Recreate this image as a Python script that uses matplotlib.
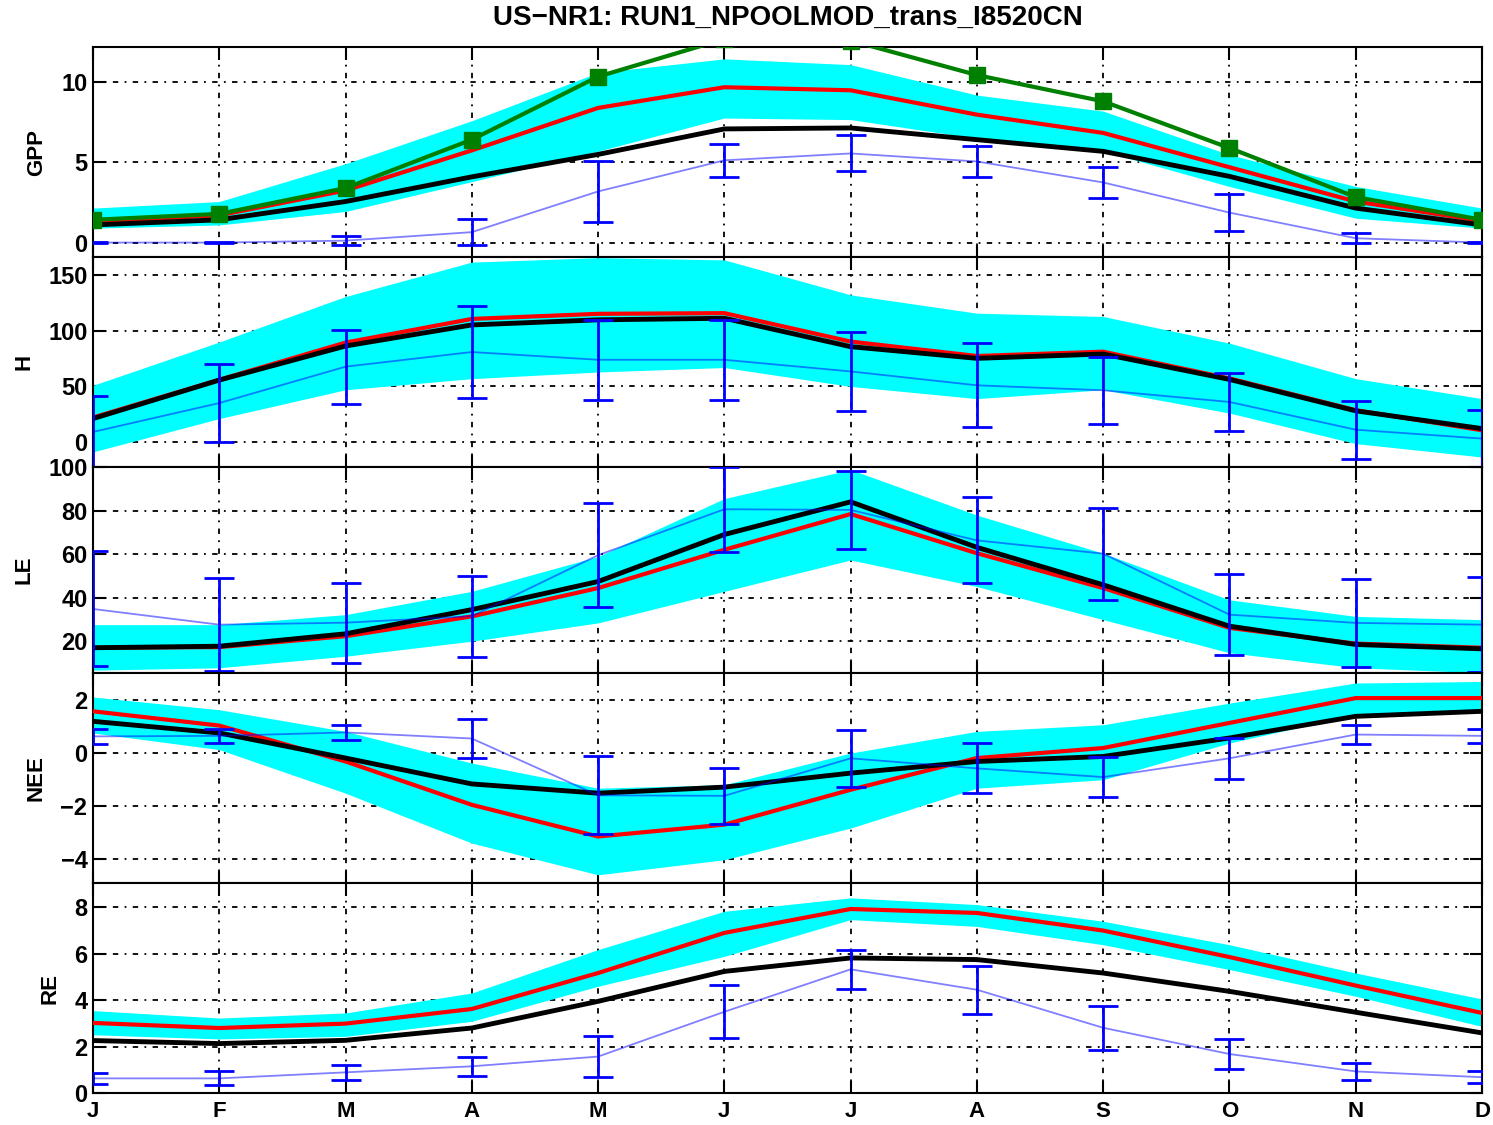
import matplotlib
matplotlib.use("Agg")
import matplotlib.pyplot as plt
import numpy as np

plt.rcParams['font.family'] = ['Liberation Sans', 'DejaVu Sans']

months = ['J', 'F', 'M', 'A', 'M', 'J', 'J', 'A', 'S', 'O', 'N', 'D']
title = 'US\u2212NR1: RUN1_NPOOLMOD_trans_I8520CN'

# GPP
gpp_hi = [2.15, 2.56, 4.92, 7.6, 10.6, 11.46, 11.1, 9.2, 8.2, 5.48, 3.5, 2.15]
gpp_lo = [0.9, 1.1, 1.94, 3.8, 5.7, 7.77, 7.67, 6.5, 5.7, 3.5, 1.52, 0.9]
gpp_red = [1.3, 1.7, 3.25, 5.75, 8.4, 9.69, 9.5, 7.98, 6.84, 4.7, 2.56, 1.35]
gpp_black = [1.1, 1.42, 2.56, 4.1, 5.5, 7.09, 7.15, 6.42, 5.69, 4.13, 2.15, 1.1]
gpp_green = [1.42, 1.79, 3.4, 6.42, 10.35, 12.7, 12.6, 10.45, 8.81, 5.9, 2.84, 1.42]
gpp_obs = [0.0, 0.0, 0.12, 0.65, 3.19, 5.13, 5.56, 5.06, 3.75, 1.87, 0.27, 0.0]
gpp_err = [0.05, 0.05, 0.26, 0.8, 1.88, 1.04, 1.12, 0.98, 0.94, 1.17, 0.32, 0.05]

# H
h_hi = [51, 90, 131, 162, 166, 164, 132.5, 116, 113, 89, 57, 39]
h_lo = [-9, 21, 47, 57, 63, 67, 50, 39, 47, 26, -1.5, -13.6]
h_red = [22, 56, 89.5, 110.8, 115.4, 116, 90.4, 77.4, 81.3, 57.2, 28.6, 10.5]
h_black = [21, 55.7, 86.4, 105.4, 110, 111.4, 85.8, 75.3, 79.2, 56.3, 28, 12]
h_obs = [9, 35, 67.8, 81, 74, 74, 63.5, 51, 46.5, 36, 11, 3]
h_err = [32.6, 35, 33.4, 41.4, 36, 36, 35.4, 37.8, 30, 26.2, 26, 26]

# LE
le_hi = [27.6, 27.6, 32.2, 42.9, 58.9, 85.5, 98.8, 77.9, 60.4, 39, 31.4, 29.9]
le_lo = [6.7, 7.8, 13.1, 20, 28.4, 42.9, 57.3, 45.1, 29.9, 14.7, 7.8, 5.5]
le_red = [17, 17.3, 22.3, 31.4, 44.4, 62, 78.4, 60.4, 44.4, 26.1, 18.9, 17]
le_black = [17, 17.7, 23.4, 34.5, 47.4, 69, 84, 63.1, 45.9, 26.9, 18.5, 16.5]
le_obs = [34.8, 27.6, 28.5, 31.5, 59.5, 80.6, 80.3, 66.3, 60.2, 32.2, 28.4, 27.6]
le_err = [26.4, 21.5, 18.3, 18.6, 23.8, 19.6, 17.8, 19.7, 21.1, 18.7, 20.2, 21.8]

# NEE
nee_hi = [2.12, 1.64, 0.82, -0.38, -1.33, -1.2, 0.0, 0.82, 1.07, 1.89, 2.65, 2.71]
nee_lo = [0.76, 0.13, -1.52, -3.41, -4.61, -4.04, -2.84, -1.33, -1.01, 0.38, 1.45, 1.52]
nee_red = [1.58, 1.04, -0.32, -1.96, -3.16, -2.71, -1.39, -0.19, 0.19, 1.14, 2.08, 2.08]
nee_black = [1.2, 0.76, -0.19, -1.17, -1.52, -1.29, -0.76, -0.32, -0.13, 0.57, 1.39, 1.58]
nee_obs = [0.63, 0.65, 0.78, 0.55, -1.6, -1.62, -0.2, -0.58, -0.91, -0.2, 0.7, 0.65]
nee_err = [0.27, 0.27, 0.27, 0.73, 1.47, 1.05, 1.09, 0.95, 0.76, 0.78, 0.35, 0.27]

# RE
re_hi = [3.55, 3.23, 3.45, 4.31, 6.18, 7.83, 8.41, 8.12, 7.4, 6.39, 5.17, 4.05]
re_lo = [2.51, 2.33, 2.44, 3.09, 4.6, 5.89, 7.47, 7.18, 6.39, 5.32, 4.17, 2.87]
re_red = [3.02, 2.8, 2.99, 3.62, 5.17, 6.9, 7.93, 7.76, 7.0, 5.86, 4.63, 3.45]
re_black = [2.26, 2.13, 2.27, 2.8, 3.95, 5.24, 5.82, 5.75, 5.17, 4.38, 3.48, 2.59]
re_obs = [0.63, 0.63, 0.89, 1.15, 1.57, 3.5, 5.33, 4.45, 2.81, 1.68, 0.93, 0.68]
re_err = [0.23, 0.3, 0.32, 0.4, 0.9, 1.15, 0.85, 1.03, 0.95, 0.65, 0.36, 0.25]

panels = [
    dict(name='GPP', hi=gpp_hi, lo=gpp_lo, red=gpp_red, black=gpp_black,
         obs=gpp_obs, err=gpp_err, green=gpp_green,
         ylim=(-0.9, 12.2), yticks=[0, 5, 10]),
    dict(name='H', hi=h_hi, lo=h_lo, red=h_red, black=h_black,
         obs=h_obs, err=h_err, ylim=(-22.6, 166.6), yticks=[0, 50, 100, 150]),
    dict(name='LE', hi=le_hi, lo=le_lo, red=le_red, black=le_black,
         obs=le_obs, err=le_err, ylim=(5.4, 100), yticks=[20, 40, 60, 80, 100]),
    dict(name='NEE', hi=nee_hi, lo=nee_lo, red=nee_red, black=nee_black,
         obs=nee_obs, err=nee_err, ylim=(-4.92, 3.03), yticks=[-4, -2, 0, 2]),
    dict(name='RE', hi=re_hi, lo=re_lo, red=re_red, black=re_black,
         obs=re_obs, err=re_err, ylim=(0, 9.05), yticks=[0, 2, 4, 6, 8]),
]

x = np.arange(1, 13)

fig = plt.figure(figsize=(14.93, 11.25), dpi=100)
left, right = 93 / 1493, 1482 / 1493
top_px = [47, 257, 467, 673, 883]
bot_px = [257, 467, 673, 883, 1093]

grid_style = dict(color='black', linestyle=(0, (3, 3.5, 1, 3.5)), linewidth=1.3)

for i, p in enumerate(panels):
    b = 1 - bot_px[i] / 1125
    h = (bot_px[i] - top_px[i]) / 1125
    ax = fig.add_axes([left, b, right - left, h])
    ax.fill_between(x, p['lo'], p['hi'], color='#00FFFF', lw=0, zorder=2)
    ax.plot(x, p['red'], color='#FF0000', lw=3, zorder=3)
    ax.plot(x, p['black'], color='black', lw=3.5, zorder=4)
    ax.plot(x, p['obs'], color='#0000FF', alpha=0.5, lw=1.3, zorder=5)
    ax.errorbar(x, p['obs'], yerr=p['err'], fmt='none', ecolor='#0000FF',
                elinewidth=2, capsize=11, capthick=2, zorder=6)
    if 'green' in p:
        ax.plot(x, p['green'], color='#008000', lw=3, marker='s',
                markersize=12, zorder=7)
    ax.set_xlim(1, 12)
    ax.set_ylim(*p['ylim'])
    ax.set_xticks(x)
    ax.set_yticks(p['yticks'])
    ax.set_yticklabels([str(t).replace('-', '\u2212') for t in p['yticks']],
                       fontsize=17, fontweight='bold')
    if i == len(panels) - 1:
        ax.set_xticklabels(months, fontsize=16, fontweight='bold')
    else:
        ax.set_xticklabels([])
    ax.tick_params(direction='in', length=9, width=1.5, top=True, right=True)
    ax.tick_params(axis='y', pad=4)
    ax.tick_params(axis='x', pad=6)
    ax.grid(True, **grid_style)
    ax.set_axisbelow(True)
    for s in ax.spines.values():
        s.set_linewidth(1.5)
    ax.set_ylabel(p['name'], fontsize=16, fontweight='bold', labelpad=10)

fig.text((left + right) / 2, 1 - 18 / 1125, title, ha='center', va='center',
         fontsize=20, fontweight='bold')

fig.savefig('out.png', dpi=100)
